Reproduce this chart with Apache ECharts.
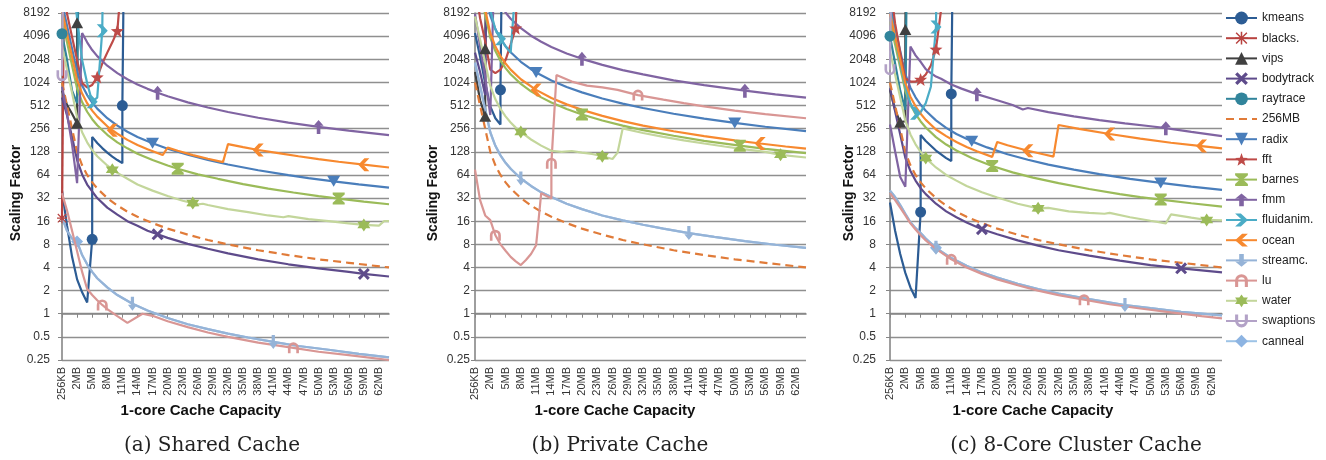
<!DOCTYPE html>
<html><head><meta charset="utf-8">
<script src="https://cdn.jsdelivr.net/npm/echarts@6/dist/echarts.min.js"></script>
<style>html,body{margin:0;padding:0;background:#fff}#c{width:1326px;height:460px}</style>
</head><body><div id="c"></div>
<script>
// ---------- categories & tick labels ----------
const CATS = ['256KB','512KB','1MB','2MB','3MB','4MB','5MB','6MB','7MB','8MB','9MB','10MB','11MB','12MB','13MB','14MB','15MB','16MB','17MB','18MB','19MB','20MB','21MB','22MB','23MB','24MB','25MB','26MB','27MB','28MB','29MB','30MB','31MB','32MB','33MB','34MB','35MB','36MB','37MB','38MB','39MB','40MB','41MB','42MB','43MB','44MB','45MB','46MB','47MB','48MB','49MB','50MB','51MB','52MB','53MB','54MB','55MB','56MB','57MB','58MB','59MB','60MB','61MB','62MB','63MB','64MB'];
const Y_LABELS = ['0.25','0.5','1','2','4','8','16','32','64','128','256','512','1024','2048','4096','8192'];
const PANEL_CAPTIONS = ['(a) Shared Cache','(b) Private Cache','(c) 8-Core Cluster Cache'];
const X_TITLE = '1-core Cache Capacity';
const Y_TITLE = 'Scaling Factor';

// ---------- data: [capacity, scaling factor, marker?] ----------
const MB256 = [['256KB',1024],['512KB',512],['1MB',256],['2MB',128],['3MB',85.3],['4MB',64],['5MB',51.2],['6MB',42.7],['8MB',32],['10MB',25.6],['12MB',21.3],['14MB',18.3],['17MB',15.1],['20MB',12.8],['24MB',10.7],['28MB',9.1],['32MB',8],['38MB',6.7],['44MB',5.8],['50MB',5.1],['56MB',4.6],['64MB',4]];

// (a) shared
const A_kmeans = [['256KB',40],['512KB',14],['1MB',5.5],['2MB',2.8],['3MB',1.9],['4MB',1.4],['5MB',9.3,1],['5MB',200],['6MB',167],['7MB',143],['8MB',125],['9MB',111],['10MB',100],['11MB',91],['11MB',512,1],['12MB',1e9]];
const A_blacks = [['256KB',17.5,1],['512KB',1e9]];
const A_vips = [['256KB',800],['512KB',520],['1MB',400],['2MB',300,1],['2MB',6100,1],['3MB',1e9]];
const A_bodytrack = [['256KB',650],['512KB',380],['1MB',200],['2MB',100],['3MB',65],['4MB',48],['5MB',39],['6MB',32],['8MB',24],['10MB',19.5],['12MB',16],['14MB',14],['16MB',12],['18MB',10.8,1],['20MB',9.7],['24MB',8.1],['28MB',7],['32MB',6.1],['38MB',5.1],['44MB',4.4],['50MB',3.9],['56MB',3.5],['59MB',3.3,1],['64MB',3.05]];
const A_raytrace = [['256KB',4400,1],['512KB',2000],['1MB',800],['2MB',550],['3MB',1e9]];
const A_radix = [['256KB',11200],['512KB',5600],['1MB',2800],['2MB',1400],['3MB',933],['4MB',700],['5MB',560],['6MB',467],['8MB',350],['10MB',280],['12MB',233],['14MB',200],['17MB',165,1],['20MB',140],['24MB',117],['28MB',100],['32MB',87.5],['38MB',73.7],['44MB',63.6],['48MB',58.3],['53MB',52.8,1],['58MB',48.3],['64MB',43.8]];
const A_fft = [['256KB',20000],['512KB',8000],['1MB',4000],['2MB',2000],['3MB',1000],['4MB',880],['5MB',950],['6MB',1200,1],['7MB',1800],['8MB',2500],['9MB',3400],['10MB',4800,1],['11MB',30000]];
const A_barnes = [['256KB',6800],['512KB',3400],['1MB',1700],['2MB',850],['3MB',567],['4MB',425],['5MB',340],['6MB',283],['8MB',213],['10MB',170],['12MB',142],['14MB',121],['17MB',100],['20MB',85],['22MB',77,1],['26MB',65],['30MB',57],['35MB',48.6],['40MB',42.5],['45MB',37.8],['50MB',34],['54MB',31.5,1],['59MB',28.8],['64MB',26.6]];
const A_fmm = [['256KB',900],['512KB',400],['1MB',160],['2MB',50],['3MB',4500],['4MB',3400],['5MB',2700],['6MB',2250],['8MB',1690],['10MB',1350],['12MB',1125],['14MB',964],['16MB',844],['18MB',750,1],['20MB',675],['24MB',563],['28MB',482],['32MB',422],['38MB',355],['44MB',307],['50MB',270,1],['56MB',241],['64MB',211]];
const A_fluid = [['256KB',200000],['512KB',80000],['1MB',25000],['2MB',7000],['3MB',2000],['4MB',1000],['5MB',575,1],['6MB',650],['7MB',4800,1],['8MB',1e9]];
const A_ocean = [['256KB',8800],['512KB',4400],['1MB',2200],['2MB',1100],['3MB',733],['4MB',550],['5MB',440],['6MB',367],['8MB',275],['9MB',244,1],['10MB',220],['12MB',183],['14MB',157],['16MB',138],['19MB',116],['20MB',145],['22MB',132],['25MB',116],['28MB',104],['31MB',94],['32MB',161],['35MB',147],['38MB',135,1],['42MB',123],['46MB',112],['50MB',103],['54MB',95],['59MB',87,1],['64MB',80]];
const A_streamc = [['256KB',18],['512KB',12],['1MB',9.5],['2MB',8.7],['3MB',5.8],['4MB',4.4],['5MB',3.5],['6MB',2.9],['8MB',2.2],['10MB',1.75],['13MB',1.35,1],['16MB',1.1],['20MB',0.88],['24MB',0.73],['28MB',0.63],['32MB',0.55],['36MB',0.49],['41MB',0.43,1],['46MB',0.38],['52MB',0.34],['58MB',0.3],['64MB',0.27]];
const A_lu = [['256KB',37],['512KB',22],['1MB',12],['2MB',6.5],['3MB',3.5],['4MB',2.1],['5MB',1.75],['6MB',1.5],['7MB',1.3,1],['8MB',1.15],['10MB',0.93],['12MB',0.76],['15MB',1.0],['17MB',0.94],['20MB',0.8],['24MB',0.67],['28MB',0.57],['32MB',0.5],['38MB',0.42],['45MB',0.36,1],['50MB',0.32],['56MB',0.29],['64MB',0.25]];
const A_water = [['256KB',3000],['512KB',1500],['1MB',750],['2MB',360],['3MB',230],['4MB',170],['5MB',135],['6MB',112],['8MB',85],['9MB',75,1],['10MB',68],['12MB',57],['14MB',48],['17MB',40],['20MB',34],['23MB',29.5],['25MB',27.5,1],['26MB',26.5],['27MB',27],['28MB',26],['32MB',23],['36MB',21],['40MB',19],['43MB',18],['44MB',18.6],['48MB',17],['52MB',16],['56MB',15],['59MB',14.3,1],['62MB',14],['63MB',16],['64MB',16]];
const A_swaptions = [['256KB',1250,1],['512KB',1e9]];
const A_canneal = [['256KB',18],['512KB',12],['1MB',9.5],['2MB',8.7,1],['3MB',5.8],['4MB',4.4],['5MB',3.5],['6MB',2.9],['8MB',2.2],['10MB',1.75],['13MB',1.35],['16MB',1.1],['20MB',0.88],['24MB',0.73],['28MB',0.63],['32MB',0.55],['36MB',0.49],['41MB',0.43],['46MB',0.38],['52MB',0.34],['58MB',0.3],['64MB',0.27]];

// (b) private
const B_kmeans = [['256KB',4500],['512KB',2200],['1MB',1000],['2MB',500],['3MB',350],['4MB',290],['4MB',820,1],['5MB',1e9]];
const B_blacks = [['256KB',1e9],['64MB',1e9]];
const B_vips = [['256KB',1400],['512KB',600],['1MB',370,1],['1MB',2800,1],['2MB',1e9]];
const B_bodytrack = [['256KB',2500],['512KB',1400],['1MB',700],['2MB',1e9]];
const B_raytrace = [['256KB',1e9],['64MB',1e9]];
const B_radix = [['256KB',60000],['512KB',30000],['1MB',15200],['2MB',7600],['3MB',5070],['4MB',3800],['5MB',3040],['6MB',2530],['8MB',1900],['10MB',1520],['11MB',1380,1],['14MB',1085],['17MB',894],['20MB',760],['24MB',633],['28MB',543],['32MB',475],['38MB',400],['44MB',345],['50MB',304,1],['56MB',271],['64MB',238]];
const B_fft = [['256KB',20000],['512KB',7000],['1MB',3500],['2MB',1500],['3MB',1350],['4MB',1500],['5MB',2000],['6MB',3200],['7MB',5200,1],['8MB',1e6]];
const B_barnes = [['256KB',31400],['512KB',15700],['1MB',7850],['2MB',3925],['3MB',2617],['4MB',1960],['5MB',1570],['6MB',1308],['8MB',981],['10MB',785],['12MB',654],['14MB',561],['17MB',462],['20MB',392,1],['24MB',327],['28MB',280],['32MB',245],['38MB',207],['44MB',178],['51MB',154,1],['56MB',140],['64MB',123]];
const B_fmm = [['256KB',8000],['512KB',3000],['1MB',1200],['2MB',385],['3MB',1e5],['4MB',12000],['5MB',8300],['6MB',6900],['8MB',5200],['10MB',4150],['12MB',3460],['14MB',2960],['17MB',2440],['20MB',2075,1],['24MB',1730],['28MB',1480],['32MB',1300],['38MB',1090],['44MB',943],['52MB',800,1],['58MB',715],['64MB',648]];
const B_fluid = [['256KB',1e6],['512KB',1e5],['1MB',30000],['2MB',9000],['3MB',5000],['4MB',3800,1],['5MB',3000],['6MB',2500],['7MB',20000],['8MB',1e9]];
const B_ocean = [['256KB',36000],['512KB',18000],['1MB',9000],['2MB',4500],['3MB',3000],['4MB',2250],['5MB',1800],['6MB',1500],['8MB',1125],['11MB',818,1],['14MB',643],['17MB',530],['20MB',450],['24MB',375],['28MB',321],['32MB',281],['38MB',237],['44MB',205],['50MB',180],['55MB',164,1],['60MB',150],['64MB',141]];
const B_streamc = [['256KB',1840],['512KB',920],['1MB',460],['2MB',230],['3MB',153],['4MB',115],['5MB',92],['6MB',77],['8MB',57.5,1],['10MB',46],['12MB',38],['14MB',33],['17MB',27],['20MB',23],['24MB',19],['28MB',16.4],['32MB',14.4],['36MB',12.8],['41MB',11.2,1],['46MB',10],['52MB',8.8],['58MB',7.9],['64MB',7.2]];
const B_lu = [['256KB',75],['512KB',30],['1MB',19],['2MB',16.5],['3MB',10.5,1],['4MB',8],['5MB',6.6],['6MB',5.5],['7MB',4.8],['8MB',4.3],['9MB',5],['10MB',6],['11MB',7.8],['12MB',37],['14MB',31.5],['14MB',91,1],['15MB',1280],['18MB',1050],['21MB',930],['24MB',880],['27MB',820],['31MB',700,1],['36MB',610],['40MB',550],['44MB',500],['50MB',440],['56MB',395],['64MB',350]];
const B_water = [['256KB',7400],['512KB',3700],['1MB',1850],['2MB',925],['3MB',617],['4MB',463],['5MB',370],['6MB',308],['7MB',264],['8MB',232,1],['10MB',185],['12MB',154],['14MB',132],['16MB',128],['18MB',131],['20MB',125],['22MB',120],['24MB',112,1],['26MB',103],['27MB',125],['28MB',258],['32MB',225],['36MB',200],['40MB',180],['44MB',164],['48MB',150],['52MB',138],['56MB',128],['59MB',117,1],['64MB',108]];
const B_swaptions = [['256KB',1e9],['64MB',1e9]];
const B_canneal = [['256KB',1840],['512KB',920],['1MB',460],['2MB',230],['3MB',153],['4MB',115],['5MB',92],['6MB',77],['8MB',57.5],['10MB',46],['12MB',38],['14MB',33],['17MB',27],['20MB',23],['24MB',19],['28MB',16.4],['32MB',14.4],['36MB',12.8],['41MB',11.2],['46MB',10],['52MB',8.8],['58MB',7.9],['64MB',7.2]];

// (c) 8-core cluster
const C_kmeans = [['256KB',28],['512KB',12],['1MB',6],['2MB',3.4],['3MB',2.2],['4MB',1.6],['5MB',21,1],['5MB',212],['6MB',177],['8MB',133],['10MB',106],['11MB',97],['11MB',724,1],['12MB',1e9]];
const C_blacks = [['256KB',1e9],['64MB',1e9]];
const C_vips = [['256KB',815],['512KB',450],['1MB',310,1],['2MB',320],['2MB',5000,1],['3MB',1e9]];
const C_bodytrack = [['256KB',860],['512KB',430],['1MB',215],['2MB',107],['3MB',72],['4MB',54],['5MB',43],['6MB',36],['8MB',27],['10MB',21.5],['12MB',18],['14MB',15.4],['17MB',12.6,1],['20MB',10.8],['24MB',9],['28MB',7.7],['32MB',6.7],['38MB',5.7],['44MB',4.9],['50MB',4.3],['56MB',3.9,1],['64MB',3.45]];
const C_raytrace = [['256KB',4096,1],['512KB',1800],['1MB',800],['2MB',450],['3MB',1e9]];
const C_radix = [['256KB',10500],['512KB',5240],['1MB',2620],['2MB',1310],['3MB',873],['4MB',655],['5MB',524],['6MB',437],['8MB',328],['10MB',262],['12MB',218],['15MB',175,1],['18MB',146],['22MB',119],['26MB',101],['30MB',87],['35MB',75],['40MB',65.5],['46MB',57],['52MB',50.4,1],['58MB',45],['64MB',41]];
const C_fft = [['256KB',20000],['512KB',6000],['1MB',2500],['2MB',1150],['3MB',1050],['4MB',1050],['5MB',1120,1],['6MB',1300],['7MB',1700],['8MB',2770,1],['9MB',9000],['10MB',1e9]];
const C_barnes = [['256KB',6360],['512KB',3180],['1MB',1590],['2MB',795],['3MB',530],['4MB',398],['5MB',318],['6MB',265],['8MB',199],['10MB',159],['12MB',133],['15MB',106],['19MB',83.7,1],['23MB',69],['27MB',59],['32MB',50],['38MB',42],['44MB',36],['48MB',33],['52MB',30.6,1],['58MB',27.4],['64MB',24.8]];
const C_fmm = [['256KB',290],['512KB',130],['1MB',60],['2MB',45],['3MB',3000],['4MB',2300],['5MB',1900],['6MB',1520],['7MB',1350],['8MB',1220],['9MB',1140],['11MB',960],['13MB',850],['16MB',720,1],['20MB',600],['23MB',520],['25MB',455],['26MB',475],['30MB',420],['35MB',370],['40MB',330],['45MB',300],['50MB',275],['53MB',260,1],['58MB',232],['64MB',205]];
const C_fluid = [['256KB',9000],['512KB',4000],['1MB',1800],['2MB',900],['3MB',550],['4MB',405,1],['5MB',420],['6MB',550],['7MB',900],['8MB',5400,1],['9MB',1e9]];
const C_ocean = [['256KB',8000],['512KB',4000],['1MB',2000],['2MB',1000],['3MB',667],['4MB',500],['5MB',400],['6MB',333],['8MB',250],['10MB',205],['12MB',172],['14MB',148],['16MB',130],['19MB',110],['20MB',172],['22MB',156],['26MB',132,1],['29MB',119],['31MB',111],['32MB',286],['36MB',254],['42MB',218,1],['48MB',190],['54MB',168],['60MB',152,1],['64MB',142]];
const C_streamc = [['256KB',40],['512KB',33],['1MB',26],['2MB',20],['3MB',15.5],['4MB',13],['5MB',11.2],['6MB',9.5],['8MB',7.2,1],['11MB',5.3],['14MB',4.2],['17MB',3.45],['20MB',2.95],['24MB',2.45],['28MB',2.1],['32MB',1.83],['38MB',1.55],['45MB',1.3,1],['50MB',1.18],['56MB',1.06],['64MB',0.95]];
const C_lu = [['256KB',37],['512KB',30],['1MB',24],['2MB',19],['3MB',15],['4MB',12.5],['5MB',10.5],['6MB',9],['8MB',7],['11MB',5.1,1],['14MB',4],['17MB',3.3],['20MB',2.8],['24MB',2.35],['28MB',2],['32MB',1.75],['37MB',1.52,1],['42MB',1.33],['48MB',1.17],['54MB',1.04],['60MB',0.93],['64MB',0.87]];
const C_water = [['256KB',2600],['512KB',1300],['1MB',650],['2MB',325],['3MB',215],['4MB',160],['5MB',128],['6MB',106,1],['8MB',80],['10MB',64],['12MB',54],['14MB',46],['17MB',38],['20MB',32.5],['24MB',27],['28MB',23.5,1],['30MB',23.8],['34MB',21.5],['38MB',20.5],['41MB',20],['42MB',20.5],['46MB',18],['50MB',16.2],['53MB',15],['54MB',19.6],['58MB',17.8],['61MB',16.6,1],['64MB',16.4]];
const C_swaptions = [['256KB',1500,1],['512KB',1e9]];
const C_canneal = [['256KB',40],['512KB',33],['1MB',26],['2MB',20],['3MB',15.5],['4MB',13],['5MB',11.2],['6MB',9.5],['8MB',7.2,1],['11MB',5.3],['14MB',4.2],['17MB',3.45],['20MB',2.95],['24MB',2.45],['28MB',2.1],['32MB',1.83],['38MB',1.55],['45MB',1.3],['50MB',1.18],['56MB',1.06],['64MB',0.95]];

// ---------- marker shapes ----------
const ASTER = 'path://M4.4,0 L5.6,0 L5.6,10 L4.4,10 Z M0,4.4 L10,4.4 L10,5.6 L0,5.6 Z M1.2,0.4 L9.6,8.8 L8.8,9.6 L0.4,1.2 Z M8.8,0.4 L9.6,1.2 L1.2,9.6 L0.4,8.8 Z';
const XMARK = 'path://M0,1.8 L1.8,0 L5,3.2 L8.2,0 L10,1.8 L6.8,5 L10,8.2 L8.2,10 L5,6.8 L1.8,10 L0,8.2 L3.2,5 Z';
const DOWN_TRI = 'path://M0,0 L10,0 L5,9 Z';
const STAR5 = 'path://M5,0 L6.23,3.3 L9.76,3.45 L7,5.65 L7.94,9.05 L5,7.1 L2.06,9.05 L3,5.65 L0.24,3.45 L3.77,3.3 Z';
const HOURGLASS = 'path://M0,0 L10,0 L10,1.6 L6.2,5 L10,8.4 L10,10 L0,10 L0,8.4 L3.8,5 L0,1.6 Z';
const UP_ARROW = 'path://M5,0 L10,5.5 L6.8,5.5 L6.8,13 L3.2,13 L3.2,5.5 L0,5.5 Z';
const DOWN_ARROW = 'path://M3.2,0 L6.8,0 L6.8,7.5 L10,7.5 L5,13 L0,7.5 L3.2,7.5 Z';
const CHEV_R = 'path://M0,0 L4.5,0 L10,6 L4.5,12 L0,12 L5.5,6 Z';
const CHEV_L = 'path://M10,0 L5.5,0 L0,6 L5.5,12 L10,12 L4.5,6 Z';
const ARCH = 'path://M0,10 L0,5 A5,5 0 0 1 10,5 L10,10 L7.6,10 L7.6,5 A2.6,2.6 0 0 0 2.4,5 L2.4,10 Z';
const STAR6 = 'path://M5,0 L6.45,2.49 L9.33,2.5 L7.9,5 L9.33,7.5 L6.45,7.51 L5,10 L3.55,7.51 L0.67,7.5 L2.1,5 L0.67,2.5 L3.55,2.49 Z';
const U_SHAPE = 'path://M0,0 L2.4,0 L2.4,5 A2.6,2.6 0 0 0 7.6,5 L7.6,0 L10,0 L10,5 A5,5 0 0 1 0,5 Z';

const META = [
  {name:'kmeans', color:'#2C5C94', symbol:'circle', size:[11,11], data:[A_kmeans,B_kmeans,C_kmeans]},
  {name:'blacks.', color:'#B8423F', symbol:ASTER, size:[10,10], data:[A_blacks,B_blacks,C_blacks]},
  {name:'vips', color:'#404040', symbol:'triangle', size:[12,11], data:[A_vips,B_vips,C_vips]},
  {name:'bodytrack', color:'#5E4B8B', symbol:XMARK, size:[12,12], data:[A_bodytrack,B_bodytrack,C_bodytrack]},
  {name:'raytrace', color:'#31849B', symbol:'circle', size:[11,11], data:[A_raytrace,B_raytrace,C_raytrace]},
  {name:'256MB', color:'rgba(0,0,0,0)', line:'#E07B39', symbol:'none', size:[1,1], dashed:true, data:[MB256,MB256,MB256]},
  {name:'radix', color:'#4A7EBB', symbol:DOWN_TRI, size:[13,11], data:[A_radix,B_radix,C_radix]},
  {name:'fft', color:'#BE4B48', symbol:STAR5, size:[13,13], data:[A_fft,B_fft,C_fft]},
  {name:'barnes', color:'#9BBB59', symbol:HOURGLASS, size:[12,12], data:[A_barnes,B_barnes,C_barnes]},
  {name:'fmm', color:'#8064A2', symbol:UP_ARROW, size:[10,14], data:[A_fmm,B_fmm,C_fmm]},
  {name:'fluidanim.', color:'#4BACC6', symbol:CHEV_R, size:[11,13], data:[A_fluid,B_fluid,C_fluid]},
  {name:'ocean', color:'#F7892F', symbol:CHEV_L, size:[11,13], data:[A_ocean,B_ocean,C_ocean]},
  {name:'streamc.', color:'#95B3D7', symbol:DOWN_ARROW, size:[9,14], data:[A_streamc,B_streamc,C_streamc]},
  {name:'lu', color:'#D99694', symbol:ARCH, size:[11,11], data:[A_lu,B_lu,C_lu]},
  {name:'water', color:'#9BBB59', line:'#C3D69B', symbol:STAR6, size:[13,13], data:[A_water,B_water,C_water]},
  {name:'swaptions', color:'#B3A2C7', symbol:U_SHAPE, size:[11,11], data:[A_swaptions,B_swaptions,C_swaptions]},
  {name:'canneal', color:'#8DB4E2', line:'#9DC3E6', symbol:'diamond', size:[12,12], z:1, data:[A_canneal,B_canneal,C_canneal]}
];

// ---------- layout ----------
const GRIDS = [{left:62,width:327},{left:475,width:331},{left:890,width:332}];
const LABEL_MARGIN = [12,5,14];
const YTITLE_X = [16,433,849];
const XTITLE_X = [201,615,1033];
const CAPTION_X = [212,620,1076];
const FONT = 'Liberation Sans';
const AXIS_GRAY = '#868686';

const chart = echarts.init(document.getElementById('c'), null, {renderer:'canvas'});
const grid = [], xAxis = [], yAxis = [], series = [], graphic = [];
GRIDS.forEach((g, i) => {
  grid.push({left:g.left, top:13, width:g.width, height:347});
  xAxis.push({type:'category', gridIndex:i, data:CATS, boundaryGap:false, position:'bottom',
    axisLine:{show:false}, axisTick:{show:false}, splitLine:{show:false},
    axisLabel:{interval:2, rotate:90, fontSize:11, color:'#333', margin:7, fontFamily:FONT}});
  xAxis.push({type:'category', gridIndex:i, data:CATS, boundaryGap:false, position:'bottom', offset:-46.27,
    axisLine:{show:true, onZero:false, lineStyle:{color:AXIS_GRAY, width:1.6}},
    axisTick:{show:true, interval:2, length:4, lineStyle:{color:AXIS_GRAY, width:1}},
    axisLabel:{show:false}, splitLine:{show:false}});
  yAxis.push({type:'log', logBase:2, gridIndex:i, min:0.25, max:8192, interval:1,
    axisLine:{show:true, lineStyle:{color:AXIS_GRAY, width:1.6}},
    axisTick:{show:true, length:4, lineStyle:{color:AXIS_GRAY}},
    axisLabel:{fontSize:12, color:'#333', fontFamily:FONT, margin:LABEL_MARGIN[i],
      formatter:v => Y_LABELS[Math.round(Math.log2(v)) + 2]},
    splitLine:{show:true, lineStyle:{color:'#8f8f8f', width:1.3}}});
  META.forEach(m => {
    series.push({
      type:'line', name:m.name, xAxisIndex:2*i, yAxisIndex:i,
      data:m.data[i].map(p => p[2] ? {value:[p[0], p[1]]} : {value:[p[0], p[1]], symbol:'none'}),
      symbol:m.symbol, symbolSize:m.size, showSymbol:true, showAllSymbol:true,
      lineStyle:{color:m.line || m.color, width:2.2, type:m.dashed ? [8,5] : 'solid'},
      itemStyle:{color:m.color, borderWidth:0},
      clip:true, z:m.z || 2, silent:true, animation:false, emphasis:{disabled:true}
    });
  });
  graphic.push({type:'text', x:YTITLE_X[i], y:193, rotation:Math.PI/2,
    style:{text:Y_TITLE, font:'bold 14px "Liberation Sans"', fill:'#111', textAlign:'center', textVerticalAlign:'middle'}});
  graphic.push({type:'text', x:XTITLE_X[i], y:411,
    style:{text:X_TITLE, font:'bold 15px "Liberation Sans"', fill:'#111', textAlign:'center', textVerticalAlign:'middle'}});
  graphic.push({type:'text', x:CAPTION_X[i], y:446,
    style:{text:PANEL_CAPTIONS[i], font:'20px "DejaVu Serif"', fill:'#222', textAlign:'center', textVerticalAlign:'middle'}});
});

chart.setOption({
  animation:false,
  backgroundColor:'#fff',
  grid, xAxis, yAxis, series, graphic,
  legend:{orient:'vertical', left:1225, top:10, itemWidth:31, itemHeight:16, itemGap:4.2, padding:0,
    selectedMode:false,
    data:META.map(m => m.dashed ? {name:m.name, itemStyle:{opacity:0}} : m.name),
    textStyle:{fontSize:12, fontFamily:FONT, color:'#222', lineHeight:16}}
});
</script></body></html>
